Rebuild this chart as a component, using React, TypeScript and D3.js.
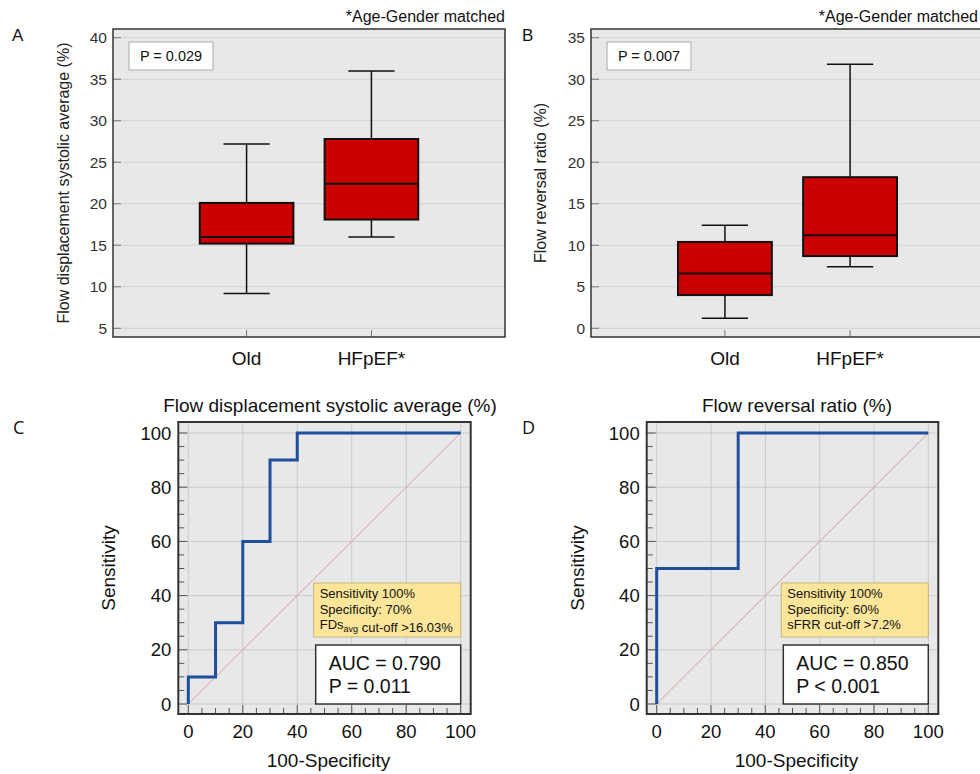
import React, { useEffect, useRef } from 'react';
import * as d3 from 'd3';

const groups = ['Old', 'HFpEF*'];
// [low whisker, Q1, median, Q3, high whisker]
const fdsAvgStats = [
  [9.2, 15.2, 16.0, 20.1, 27.2],
  [16.0, 18.1, 22.4, 27.8, 36.0],
];
const frrStats = [
  [1.2, 4.0, 6.6, 10.4, 12.4],
  [7.4, 8.7, 11.2, 18.2, 31.8],
];
const fdsAvgTicks = [5, 10, 15, 20, 25, 30, 35, 40];
const frrTicks = [0, 5, 10, 15, 20, 25, 30, 35];

// ROC operating points: [100-specificity, sensitivity]
const rocFdsAvg = [[0, 0], [0, 10], [10, 10], [10, 30], [20, 30], [20, 60], [30, 60], [30, 90], [40, 90], [40, 100], [100, 100]];
const rocFrr = [[0, 0], [0, 50], [30, 50], [30, 100], [100, 100]];
const rocTicks = [0, 20, 40, 60, 80, 100];
const rocMinorTicks = d3.range(0, 101, 5);

// note lines, each a list of [text, isSubscript]
const fdsAvgNotes = [
  [['Sensitivity 100%', false]],
  [['Specificity: 70%', false]],
  [['FDs', false], ['avg', true], [' cut-off >16.03%', false]],
];
const frrNotes = [
  [['Sensitivity 100%', false]],
  [['Specificity: 60%', false]],
  [['sFRR cut-off >7.2%', false]],
];

const FONT = 'Liberation Sans, Arial, sans-serif';

const drawBoxPanel = (svg, o) => {
  const { left, right, top, bottom, domain, ticks, stats, pText, yLabel, letter, letterX, labelX, noteX } = o;
  const y = d3.scaleLinear().domain(domain).range([bottom, top]);
  const x = d3.scalePoint().domain(groups).range([left, right]).padding(1.07);
  const g = svg.append('g');

  g.append('rect')
    .attr('x', left).attr('y', top)
    .attr('width', right - left).attr('height', bottom - top)
    .attr('fill', '#e8e8e8');

  g.selectAll('.grid')
    .data(ticks)
    .enter()
    .append('line')
    .attr('x1', left).attr('x2', right)
    .attr('y1', (d) => y(d)).attr('y2', (d) => y(d))
    .attr('stroke', '#d2d2d2');

  g.selectAll('.ytick')
    .data(ticks)
    .enter()
    .append('line')
    .attr('x1', left).attr('x2', left + 8)
    .attr('y1', (d) => y(d)).attr('y2', (d) => y(d))
    .attr('stroke', '#777');

  g.selectAll('.ylab')
    .data(ticks)
    .enter()
    .append('text')
    .attr('x', left - 6)
    .attr('y', (d) => y(d))
    .attr('dy', '0.36em')
    .attr('text-anchor', 'end')
    .style('font-size', '15.5px')
    .style('fill', '#333')
    .text((d) => d);

  g.selectAll('.xtick')
    .data(groups)
    .enter()
    .append('line')
    .attr('x1', (d) => x(d)).attr('x2', (d) => x(d))
    .attr('y1', bottom).attr('y2', bottom - 7)
    .attr('stroke', '#777');

  g.selectAll('.xlab')
    .data(groups)
    .enter()
    .append('text')
    .attr('x', (d) => x(d))
    .attr('y', bottom + 28)
    .attr('text-anchor', 'middle')
    .style('font-size', '19px')
    .style('fill', '#111')
    .text((d) => d);

  const boxW = x.step() * 0.75;
  const capW = x.step() * 0.37;
  const box = g.selectAll('.box').data(stats).enter().append('g');
  box.append('line')
    .attr('x1', (d, i) => x(groups[i])).attr('x2', (d, i) => x(groups[i]))
    .attr('y1', (d) => y(d[0])).attr('y2', (d) => y(d[4]))
    .attr('stroke', '#111').attr('stroke-width', 1.5);
  [0, 4].forEach((k) => {
    box.append('line')
      .attr('x1', (d, i) => x(groups[i]) - capW / 2).attr('x2', (d, i) => x(groups[i]) + capW / 2)
      .attr('y1', (d) => y(d[k])).attr('y2', (d) => y(d[k]))
      .attr('stroke', '#111').attr('stroke-width', 1.5);
  });
  box.append('rect')
    .attr('x', (d, i) => x(groups[i]) - boxW / 2)
    .attr('y', (d) => y(d[3]))
    .attr('width', boxW)
    .attr('height', (d) => y(d[1]) - y(d[3]))
    .attr('fill', '#cc0000')
    .attr('stroke', '#111')
    .attr('stroke-width', 2);
  box.append('line')
    .attr('x1', (d, i) => x(groups[i]) - boxW / 2).attr('x2', (d, i) => x(groups[i]) + boxW / 2)
    .attr('y1', (d) => y(d[2])).attr('y2', (d) => y(d[2]))
    .attr('stroke', '#111').attr('stroke-width', 2);

  g.append('rect')
    .attr('x', left).attr('y', top)
    .attr('width', right - left).attr('height', bottom - top)
    .attr('fill', 'none')
    .attr('stroke', '#333')
    .attr('stroke-width', 1.5);

  g.append('rect')
    .attr('x', left + 16).attr('y', top + 13)
    .attr('width', 84).attr('height', 28)
    .attr('fill', '#fff')
    .attr('stroke', '#aaa');
  g.append('text')
    .attr('x', left + 58).attr('y', top + 27)
    .attr('dy', '0.36em')
    .attr('text-anchor', 'middle')
    .style('font-size', '14.5px')
    .style('fill', '#111')
    .text(pText);

  g.append('text')
    .attr('transform', `translate(${labelX},${(top + bottom) / 2}) rotate(-90)`)
    .attr('text-anchor', 'middle')
    .attr('dy', '0.36em')
    .style('font-size', '16px')
    .style('fill', '#222')
    .text(yLabel);

  g.append('text')
    .attr('x', letterX).attr('y', 41)
    .style('font-size', '17px')
    .style('fill', '#111')
    .text(letter);

  g.append('text')
    .attr('x', noteX).attr('y', 22)
    .attr('text-anchor', 'end')
    .style('font-size', '16px')
    .style('fill', '#111')
    .text('*Age-Gender matched');
};

const drawRocPanel = (svg, o) => {
  const { x0, x1, points, title, titleX, letter, letterX, notes, auc, pText } = o;
  const x = d3.scaleLinear().domain([0, 100]).range([x0, x1]);
  const y = d3.scaleLinear().domain([0, 100]).range([704, 433]);
  const left = x(0) - 10;
  const right = x(100) + 10;
  const top = y(100) - 11;
  const bottom = y(0) + 10;
  const g = svg.append('g');

  g.append('rect')
    .attr('x', left).attr('y', top)
    .attr('width', right - left).attr('height', bottom - top)
    .attr('fill', '#e8e8e8');

  g.selectAll('.vgrid')
    .data(rocTicks)
    .enter()
    .append('line')
    .attr('x1', (d) => x(d)).attr('x2', (d) => x(d))
    .attr('y1', top).attr('y2', bottom)
    .attr('stroke', '#cacaca');
  g.selectAll('.hgrid')
    .data(rocTicks)
    .enter()
    .append('line')
    .attr('x1', left).attr('x2', right)
    .attr('y1', (d) => y(d)).attr('y2', (d) => y(d))
    .attr('stroke', '#cacaca');

  g.selectAll('.ytick')
    .data(rocMinorTicks)
    .enter()
    .append('line')
    .attr('x1', left).attr('x2', (d) => left + (d % 20 === 0 ? 9 : 6))
    .attr('y1', (d) => y(d)).attr('y2', (d) => y(d))
    .attr('stroke', '#555');
  g.selectAll('.xtick')
    .data(rocMinorTicks)
    .enter()
    .append('line')
    .attr('x1', (d) => x(d)).attr('x2', (d) => x(d))
    .attr('y1', bottom).attr('y2', (d) => bottom - (d % 20 === 0 ? 9 : 6))
    .attr('stroke', '#555');

  g.selectAll('.ylab')
    .data(rocTicks)
    .enter()
    .append('text')
    .attr('x', left - 7)
    .attr('y', (d) => y(d))
    .attr('dy', '0.36em')
    .attr('text-anchor', 'end')
    .style('font-size', '18.5px')
    .style('fill', '#111')
    .text((d) => d);
  g.selectAll('.xlab')
    .data(rocTicks)
    .enter()
    .append('text')
    .attr('x', (d) => x(d))
    .attr('y', 738)
    .attr('text-anchor', 'middle')
    .style('font-size', '18.5px')
    .style('fill', '#111')
    .text((d) => d);

  g.append('line')
    .attr('x1', x(0)).attr('y1', y(0))
    .attr('x2', x(100)).attr('y2', y(100))
    .attr('stroke', '#d8a0a0')
    .attr('stroke-width', 1);

  const line = d3.line().x((d) => x(d[0])).y((d) => y(d[1]));
  g.append('path')
    .attr('d', line(points))
    .attr('fill', 'none')
    .attr('stroke', '#1f4e9c')
    .attr('stroke-width', 3);

  // cut-off note
  const nx = x(100) - 147;
  g.append('rect')
    .attr('x', nx).attr('y', 583)
    .attr('width', x(100) - nx).attr('height', 54)
    .attr('fill', '#fde699')
    .attr('stroke', '#c9b47a');
  notes.forEach((segs, i) => {
    const t = g.append('text')
      .attr('x', nx + 6)
      .attr('y', 598 + i * 15.7)
      .style('font-size', '13px')
      .style('fill', '#111');
    segs.forEach(([s, sub]) => {
      t.append('tspan')
        .attr('dy', sub ? 3 : 0)
        .style('font-size', sub ? '9px' : '13px')
        .text(s);
      if (sub) t.append('tspan').attr('dy', -3).text('');
    });
  });

  const ax = x(100) - 145;
  g.append('rect')
    .attr('x', ax).attr('y', 645)
    .attr('width', x(100) - ax).attr('height', y(0) - 645)
    .attr('fill', '#fff')
    .attr('stroke', '#333')
    .attr('stroke-width', 1.5);
  g.append('text')
    .attr('x', ax + 13).attr('y', 669.5)
    .style('font-size', '19.5px')
    .style('fill', '#111')
    .text(auc);
  g.append('text')
    .attr('x', ax + 13).attr('y', 693)
    .style('font-size', '19.5px')
    .style('fill', '#111')
    .text(pText);

  g.append('rect')
    .attr('x', left).attr('y', top)
    .attr('width', right - left).attr('height', bottom - top)
    .attr('fill', 'none')
    .attr('stroke', '#333')
    .attr('stroke-width', 2);

  g.append('text')
    .attr('x', titleX).attr('y', 412)
    .attr('text-anchor', 'middle')
    .style('font-size', '19px')
    .style('fill', '#111')
    .text(title);

  g.append('text')
    .attr('transform', `translate(${left - 70},${(top + bottom) / 2}) rotate(-90)`)
    .attr('text-anchor', 'middle')
    .attr('dy', '0.36em')
    .style('font-size', '19px')
    .style('fill', '#111')
    .text('Sensitivity');

  g.append('text')
    .attr('x', (left + right) / 2 + 4).attr('y', 767)
    .attr('text-anchor', 'middle')
    .style('font-size', '19px')
    .style('fill', '#111')
    .text('100-Specificity');

  g.append('text')
    .attr('x', letterX).attr('y', 434)
    .style('font-size', '18px')
    .style('font-family', 'Open Sans, sans-serif')
    .style('fill', '#111')
    .text(letter);
};

const App = () => {
  const chRef = useRef(null);

  useEffect(() => {
    const svg = d3.select(chRef.current);
    svg.selectAll('*').remove();

    drawBoxPanel(svg, {
      left: 113, right: 505, top: 29, bottom: 337,
      domain: [3.95, 41.05], ticks: fdsAvgTicks, stats: fdsAvgStats,
      pText: 'P = 0.029', yLabel: 'Flow displacement systolic average (%)',
      letter: 'A', letterX: 12, labelX: 63, noteX: 505,
    });
    drawBoxPanel(svg, {
      left: 591, right: 984, top: 29, bottom: 337,
      domain: [-1.05, 36.05], ticks: frrTicks, stats: frrStats,
      pText: 'P = 0.007', yLabel: 'Flow reversal ratio (%)',
      letter: 'B', letterX: 522, labelX: 540, noteX: 978,
    });
    drawRocPanel(svg, {
      x0: 188.3, x1: 460.7, points: rocFdsAvg,
      title: 'Flow displacement systolic average (%)', titleX: 330,
      letter: 'C', letterX: 13, notes: fdsAvgNotes,
      auc: 'AUC = 0.790', pText: 'P = 0.011',
    });
    drawRocPanel(svg, {
      x0: 656.7, x1: 928.3, points: rocFrr,
      title: 'Flow reversal ratio (%)', titleX: 797,
      letter: 'D', letterX: 522, notes: frrNotes,
      auc: 'AUC = 0.850', pText: 'P < 0.001',
    });
  }, []);

  return (
    <svg
      ref={chRef}
      width={980}
      height={774}
      style={{ position: 'absolute', left: 0, top: 0, background: '#fff', fontFamily: FONT }}
    />
  );
};

export default App;
